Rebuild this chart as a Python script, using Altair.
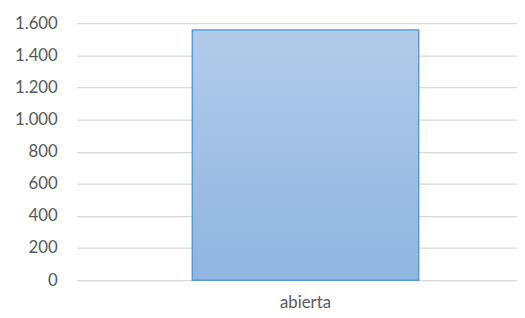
import altair as alt
import pandas as pd

categories = ["abierta"]
values = [1557]
y_ticks = [0, 200, 400, 600, 800, 1000, 1200, 1400, 1600]

df = pd.DataFrame({"cat": categories, "val": values})

font = "Lato"
txt = "#595959"

chart = alt.Chart(df).mark_bar(
    color=alt.Gradient(
        gradient="linear",
        stops=[alt.GradientStop(color="#b2cbe9", offset=0),
               alt.GradientStop(color="#8fb5e0", offset=1)],
        x1=0, x2=0, y1=0, y2=1,
    ),
    stroke="#5b9bd5",
    strokeWidth=1.5,
).encode(
    x=alt.X("cat:N", title=None,
            scale=alt.Scale(paddingInner=0, paddingOuter=0.472, align=0.54),
            axis=alt.Axis(labelAngle=0, domain=False, ticks=False, labelFont=font,
                          labelFontSize=17, labelColor=txt, labelPadding=15)),
    y=alt.Y("val:Q", title=None,
            scale=alt.Scale(domain=[0, 1600], nice=False),
            axis=alt.Axis(values=y_ticks, domain=False, ticks=False, labelFont=font,
                          labelFontSize=17, labelColor=txt, labelPadding=20,
                          gridColor="#d9d9d9", gridWidth=1.2,
                          labelExpr="replace(format(datum.value, ',d'), ',', '.')")),
).properties(
    width=447, height=261,
    autosize=alt.AutoSizeParams(type="none"),
    padding={"left": 70, "top": 13, "right": 0, "bottom": 35},
).configure_view(stroke=None)

chart.save("out.html", embed_options={"renderer": "svg", "actions": False})
